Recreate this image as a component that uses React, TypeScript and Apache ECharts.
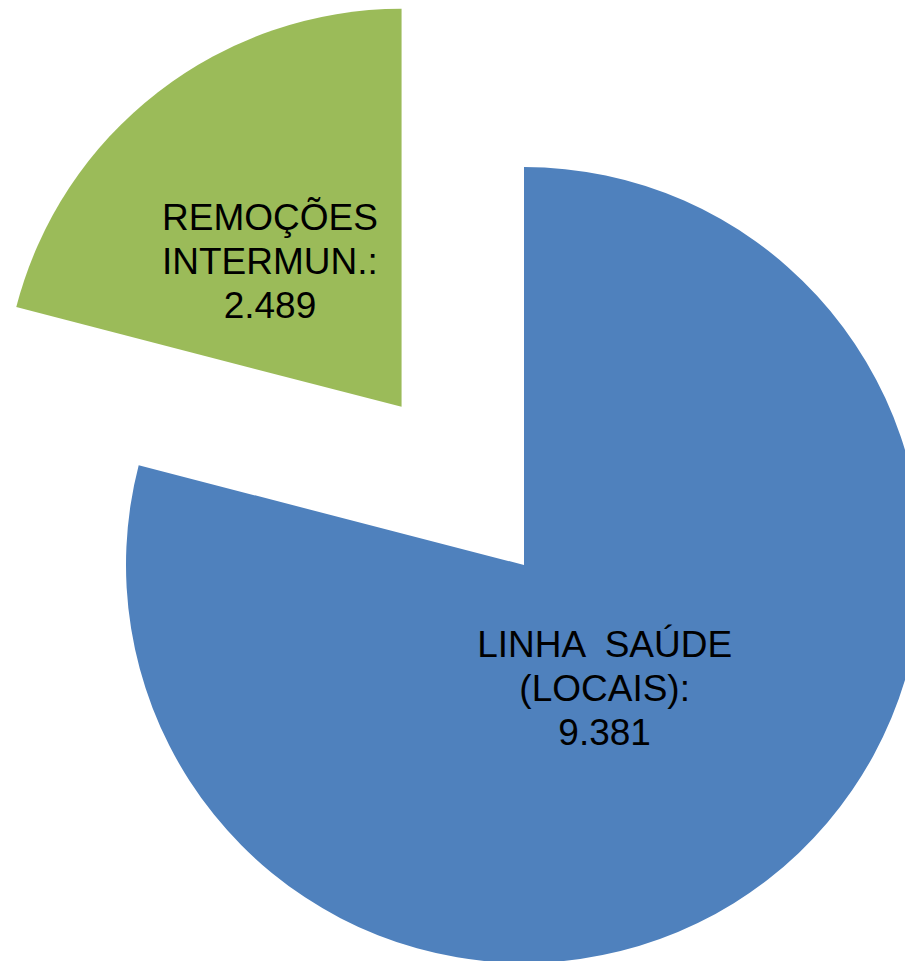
import React, { useEffect, useRef } from "react";
import * as echarts from "echarts";

const categories = ["LINHA  SAÚDE\n(LOCAIS):", "REMOÇÕES\nINTERMUN.:"];
const values = [9381, 2489];
const valueLabels = ["9.381", "2.489"];
const colors = ["#4F81BD", "#9BBB59"];
const labelShift = [
  [-43, -36],
  [-8, 14],
];

export default function App() {
  const ref = useRef<HTMLDivElement>(null);
  useEffect(() => {
    document.body.style.margin = "0";
    const chart = echarts.init(ref.current!, null, { renderer: "svg" });
    const labelBase = {
      show: true,
      position: "inside",
      color: "#000000",
      fontFamily: "Liberation Sans, Arial, sans-serif",
      fontSize: 37,
      lineHeight: 44,
      align: "center",
      formatter: (p: any) => `${categories[p.dataIndex]}\n${valueLabels[p.dataIndex]}`,
    };
    chart.setOption({
      animation: false,
      backgroundColor: "#ffffff",
      series: [
        {
          type: "pie",
          center: [524, 565],
          radius: 398,
          startAngle: 90,
          clockwise: true,
          selectedMode: "multiple",
          selectedOffset: 200,
          avoidLabelOverlap: false,
          emphasis: { disabled: true },
          label: labelBase,
          labelLine: { show: false },
          itemStyle: { borderWidth: 0 },
          data: values.map((v, i) => ({
            name: categories[i],
            value: v,
            selected: i === 1,
            itemStyle: { color: colors[i] },
            label: { offset: labelShift[i] },
            select: { label: { offset: labelShift[i] }, itemStyle: { color: colors[i] } },
          })),
        },
      ],
    });
    return () => chart.dispose();
  }, []);
  return <div ref={ref} style={{ width: 905, height: 961 }} />;
}
